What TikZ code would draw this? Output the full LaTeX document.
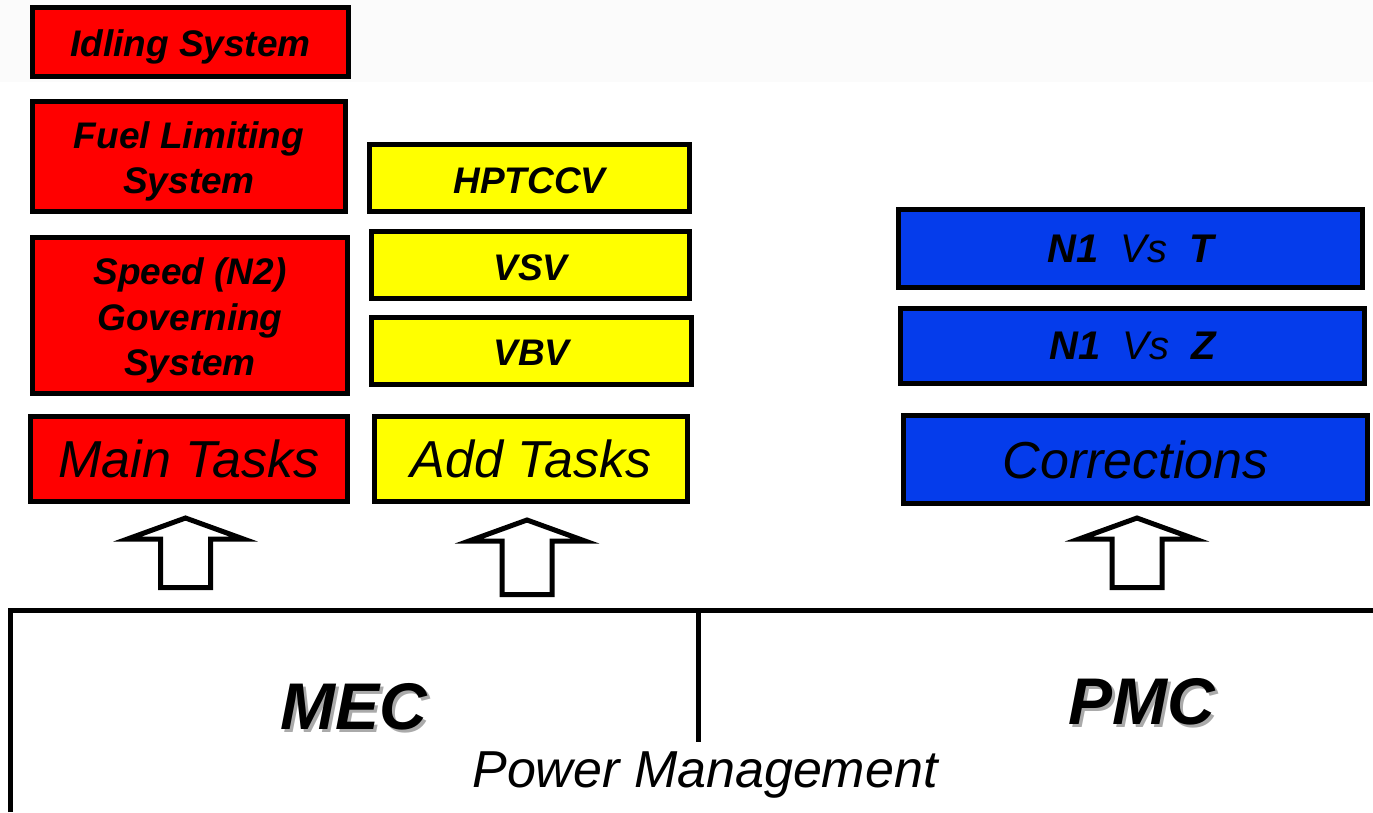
\documentclass[tikz,border=0pt]{standalone}
\usepackage{fontspec}
\setmainfont{Liberation Sans}
\definecolor{boxred}{RGB}{255,0,0}
\definecolor{boxyellow}{RGB}{255,255,0}
\definecolor{boxblue}{RGB}{5,60,235}
\definecolor{shadowgray}{RGB}{170,170,170}
\newcommand{\shadowtext}[1]{\makebox[0pt][l]{\hspace{3pt}\raisebox{-3pt}{\textcolor{shadowgray}{#1}}}#1}
\begin{document}
\begin{tikzpicture}[x=1pt,y=-1pt,
  box/.style={draw=black, line width=5pt, inner sep=0pt, align=center, text=black},
  redbox/.style={box, fill=boxred},
  yellowbox/.style={box, fill=boxyellow},
  bluebox/.style={box, fill=boxblue},
  smalltxt/.style={font=\fontsize{37}{45.5}\selectfont\bfseries\itshape},
  bigtxt/.style={font=\fontsize{52}{60}\selectfont\itshape},
  labeltxt/.style={font=\fontsize{66}{70}\selectfont\bfseries\itshape},
  blockarrow/.style={draw=black, line width=5pt, fill=white, line join=miter},
  panel/.style={draw=black, line width=5pt}]
\useasboundingbox (0,0) rectangle (1373,812);
\fill[black!1.5] (0,0) rectangle (1373,82);

% left column (red)
\node[redbox, minimum width=316pt, minimum height=69pt] (idle) at (190.5,42) {};
\node[smalltxt] at ([yshift=-5pt]idle.center) {Idling System};
\node[redbox, minimum width=313pt, minimum height=110pt] (fuel) at (189,156.5) {};
\node[smalltxt, align=center] at ([yshift=-5pt]fuel.center) {Fuel Limiting\\System};
\node[redbox, minimum width=315pt, minimum height=156pt] (speed) at (190,315.5) {};
\node[smalltxt, align=center] at ([yshift=-5pt]speed.center) {Speed (N2)\\Governing\\System};
\node[redbox, bigtxt, minimum width=317pt, minimum height=85pt] (main) at (189,459) {Main Tasks};

% middle column (yellow)
\node[yellowbox, minimum width=320pt, minimum height=67pt] (hpt) at (529.5,178) {};
\node[smalltxt] at ([yshift=-3pt]hpt.center) {HPTCCV};
\node[yellowbox, minimum width=318pt, minimum height=67pt] (vsv) at (530.5,265) {};
\node[smalltxt] at ([yshift=-3pt]vsv.center) {VSV};
\node[yellowbox, minimum width=320pt, minimum height=67pt] (vbv) at (531.5,351) {};
\node[smalltxt] at ([yshift=-2pt]vbv.center) {VBV};
\node[yellowbox, bigtxt, minimum width=313pt, minimum height=85pt] (add) at (531,459) {Add Tasks};

% right column (blue)
\node[bluebox, font=\fontsize{40}{46}\selectfont\itshape, minimum width=464pt, minimum height=78pt] (n1t) at (1130.5,248.5) {\textbf{N1}\ \ Vs\ \ \textbf{T}};
\node[bluebox, font=\fontsize{40}{46}\selectfont\itshape, minimum width=464pt, minimum height=75pt] (n1z) at (1132.5,346) {\textbf{N1}\ \ Vs\ \ \textbf{Z}};
\node[bluebox, bigtxt, minimum width=464pt, minimum height=88pt] (corr) at (1135.5,459.5) {Corrections};

% block arrows
\foreach \cx/\ty/\len in {185.5/515/75, 527/517/80, 1137/515/75}{
  \draw[blockarrow] (\cx,\ty+3) -- (\cx+58,\ty+24) -- (\cx+25,\ty+24) -- (\cx+25,\ty+\len-2.5)
     -- (\cx-25,\ty+\len-2.5) -- (\cx-25,\ty+24) -- (\cx-58,\ty+24) -- cycle;
}

% bottom panel
\coordinate (pl) at (10,610);
\coordinate (pr) at (1373,610);
\coordinate (pb) at (10,812);
\coordinate (dt) at (698,610);
\coordinate (db) at (698,742);
\draw[panel] (pb) -- (pl) -- (pr);
\draw[panel] (dt) -- (db);

\node[labeltxt] (mec) at (354,708) {\shadowtext{MEC}};
\node[labeltxt] (pmc) at (1142,703) {\shadowtext{PMC}};
\node[bigtxt] (pm) at (705,775) {Power Management};
\end{tikzpicture}
\end{document}
